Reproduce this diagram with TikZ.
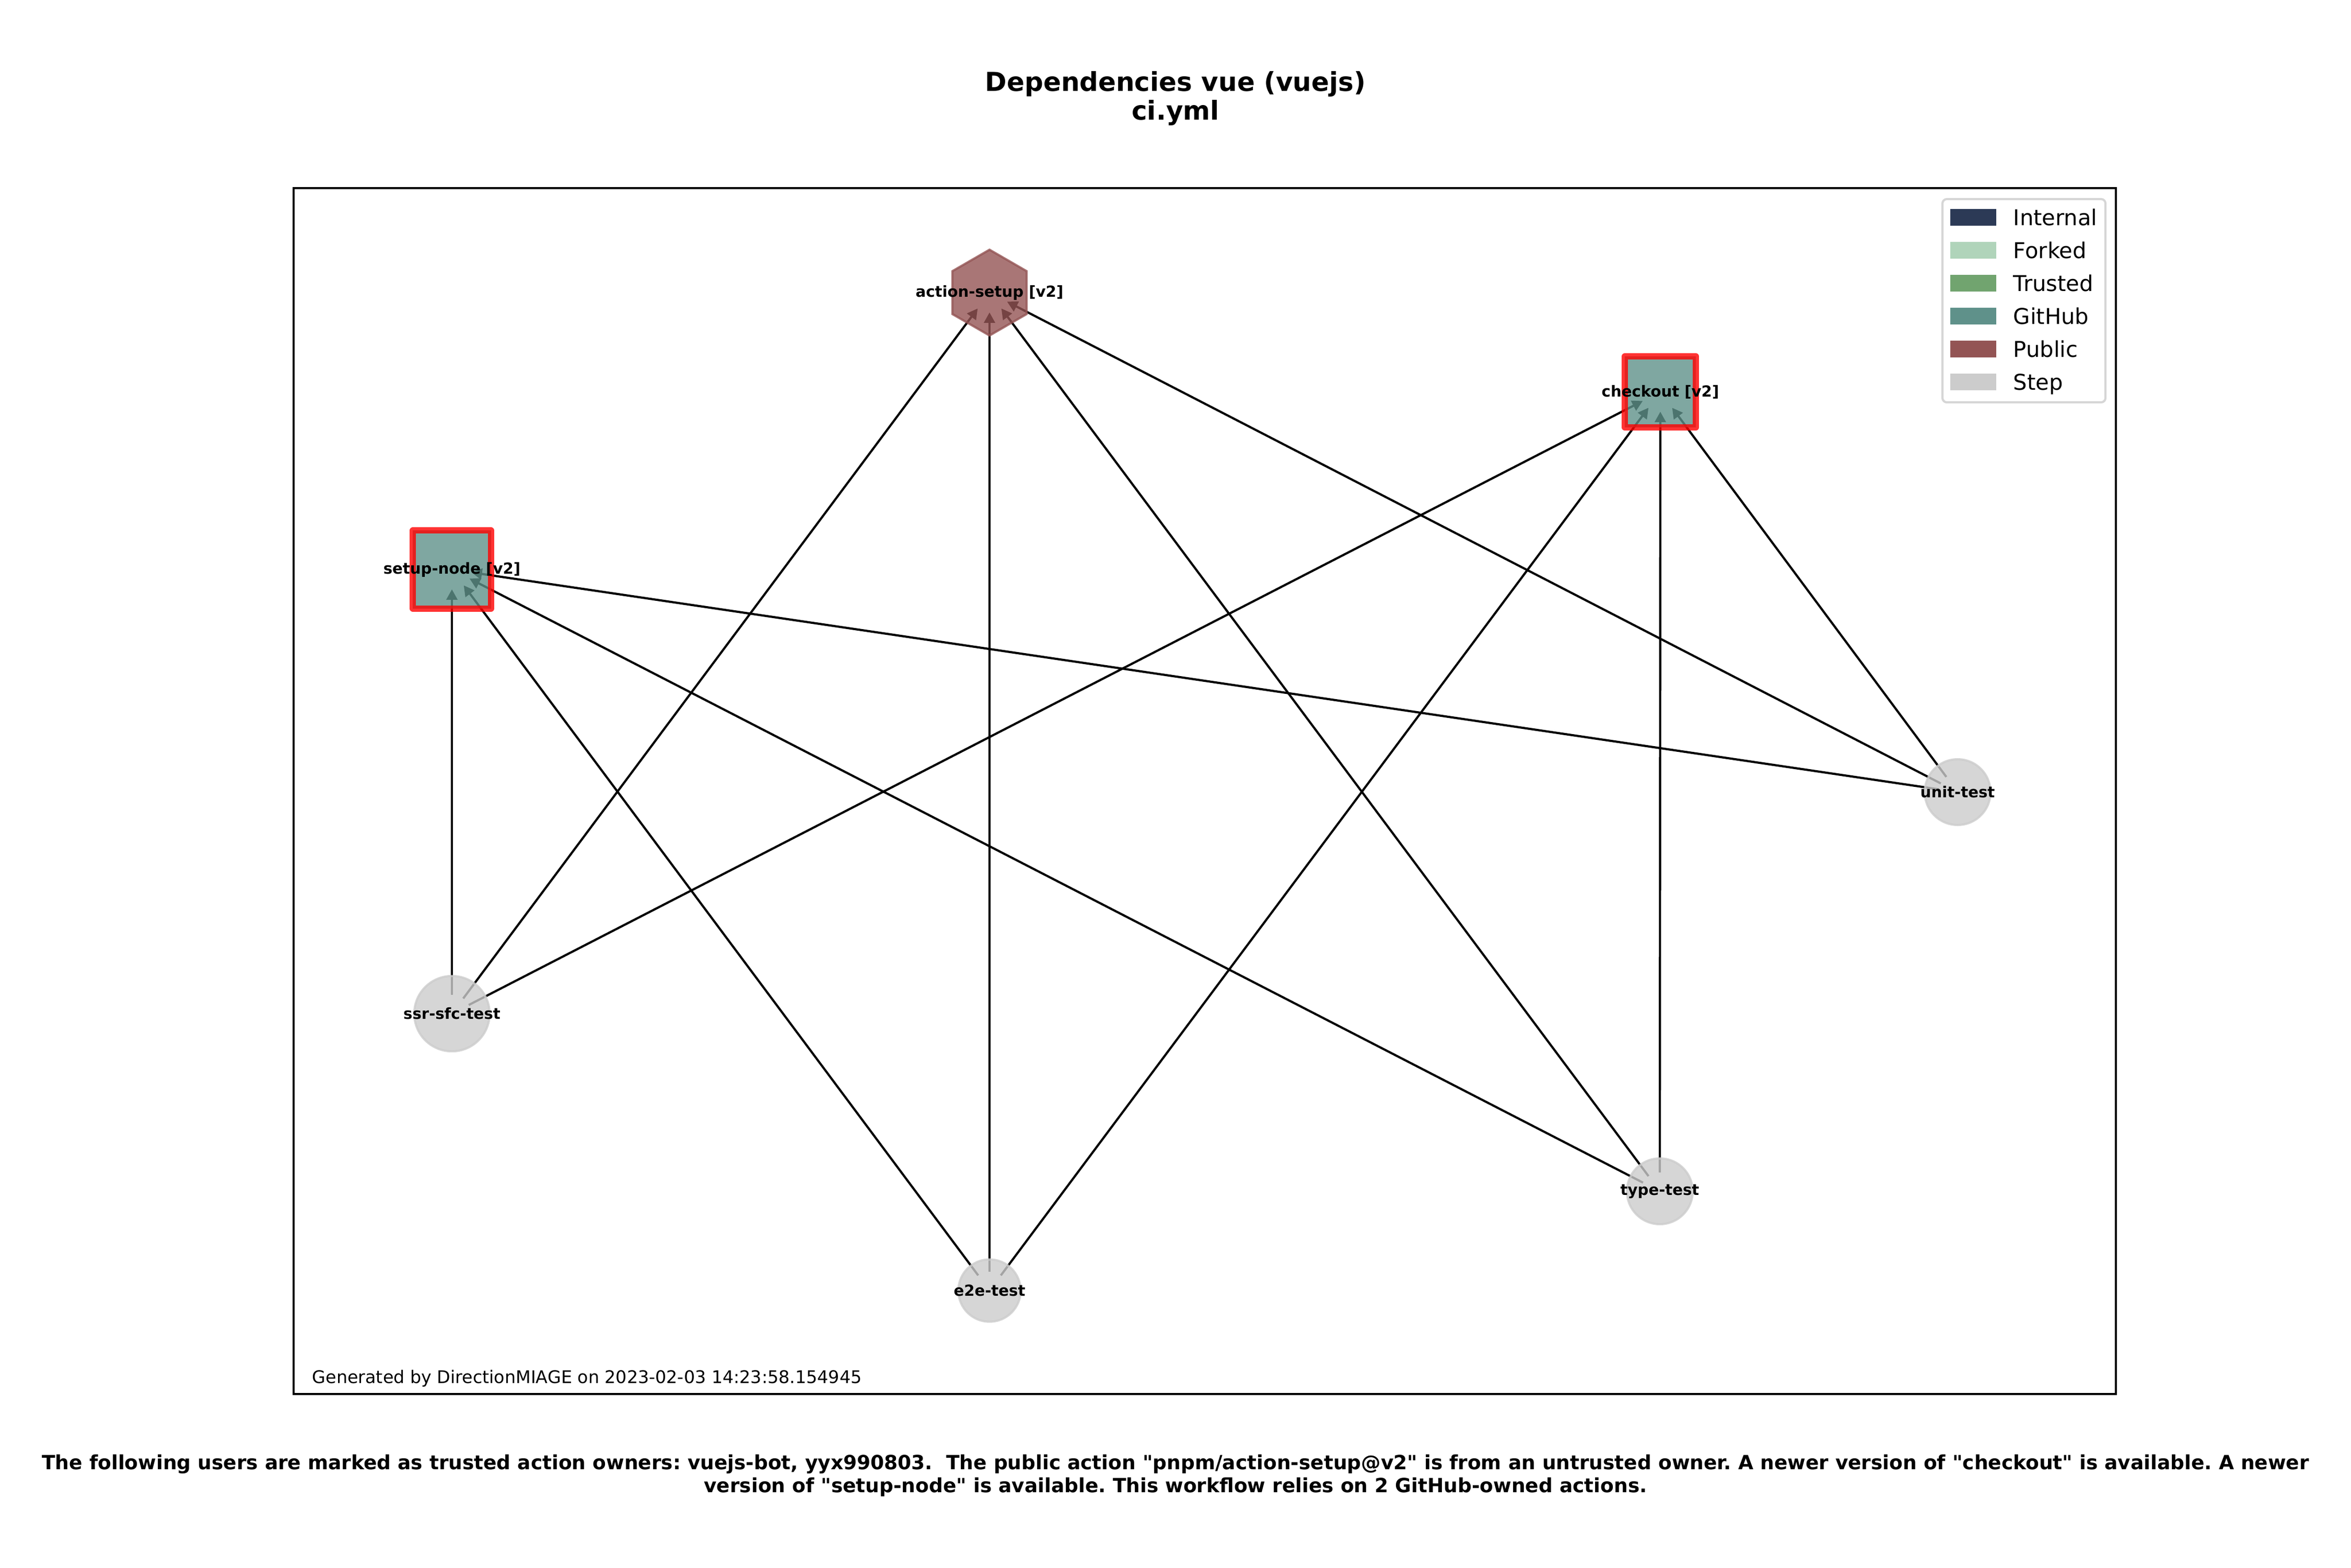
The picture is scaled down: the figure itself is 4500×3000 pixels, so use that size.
\documentclass[tikz,border=0pt]{standalone}
\usepackage{fontspec}
\setmainfont{DejaVu Sans}[Ligatures=TeXOff]
\usetikzlibrary{shapes.geometric, arrows.meta}
\frenchspacing

\definecolor{internalc}{RGB}{44,58,86}
\definecolor{forkedc}{RGB}{176,212,186}
\definecolor{trustedc}{RGB}{113,164,111}
\definecolor{githubc}{RGB}{95,145,138}
\definecolor{publicc}{RGB}{147,84,84}
\definecolor{stepc}{RGB}{204,204,204}
\definecolor{framec}{RGB}{214,214,214}

\pgfdeclarelayer{background}
\pgfsetlayers{background,main}

\begin{document}
\begin{tikzpicture}
    [
    x = 0.24pt, y = -0.24pt,
    every node/.style = {font=\fontsize{7}{8.4}\selectfont\bfseries, inner sep=0pt, text opacity=1},
    job/.style        = {circle, fill=stepc, draw=stepc, fill opacity=0.8, draw opacity=0.8, line width=1pt},
    action/.style     = {rectangle, fill=githubc, draw=red, fill opacity=0.8, draw opacity=0.8,
                         line width=2.9pt, line join=round},
    public/.style     = {regular polygon, regular polygon sides=6, shape border rotate=30,
                         fill=publicc, draw=publicc, fill opacity=0.8, draw opacity=0.8,
                         line width=1pt, minimum size=39.4pt},
    dep/.style        = {-{Triangle[length=4.8pt, width=5pt]}, line width=1pt,
                         shorten <=8.7pt, shorten >=9.1pt},
    swatch/.style     = {minimum width=21.1pt, minimum height=7.9pt},
    legend/.style     = {font=\fontsize{10}{12}\selectfont, anchor=base west}
    ]
    \useasboundingbox (0,0) rectangle (4500,3000);

    \node (title) at (2250,188) [align=center, font=\fontsize{12}{13.2}\selectfont\bfseries]
        {Dependencies vue (vuejs)\\ci.yml};

    \draw [line width=0.8pt] (562,360) rectangle (4050,2668);

    \node [public] (actsetup) at (1894,560) [label={center:action-setup [v2]}] {};
    \node [action, minimum size=32.6pt] (checkout) at (3178,750) [label={center:checkout [v2]}] {};
    \node [action, minimum size=35.8pt] (setupnode) at (865,1090) [label={center:setup-node [v2]}] {};

    \node [job, minimum size=34.6pt] (ssr) at (865,1940) [label={center:ssr-sfc-test}] {};
    \node [job, minimum size=28.6pt] (e2e) at (1894,2470) [label={center:e2e-test}] {};
    \node [job, minimum size=30.2pt] (type) at (3177,2280) [label={center:type-test}] {};
    \node [job, minimum size=30.2pt] (unit) at (3747,1516) [label={center:unit-test}] {};

    \begin{pgfonlayer}{background}
    \draw [dep] (ssr.center) -- (setupnode.center);
    \draw [dep] (ssr.center) -- (actsetup.center);
    \draw [dep] (ssr.center) -- (checkout.center);
    \draw [dep] (e2e.center) -- (setupnode.center);
    \draw [dep] (e2e.center) -- (actsetup.center);
    \draw [dep] (e2e.center) -- (checkout.center);
    \draw [dep] (type.center) -- (setupnode.center);
    \draw [dep] (type.center) -- (actsetup.center);
    \draw [dep] (type.center) -- (checkout.center);
    \draw [dep] (unit.center) -- (setupnode.center);
    \draw [dep] (unit.center) -- (actsetup.center);
    \draw [dep] (unit.center) -- (checkout.center);
    \end{pgfonlayer}

    \draw [framec, line width=1pt, rounded corners=2pt, fill=white] (3718,381) rectangle (4030,770);
    \node [swatch, fill=internalc] (swinternal) at (3777,416) {};
    \node [swatch, fill=forkedc]   (swforked)   at (3777,479) {};
    \node [swatch, fill=trustedc]  (swtrusted)  at (3777,542) {};
    \node [swatch, fill=githubc]   (swgithub)   at (3777,605) {};
    \node [swatch, fill=publicc]   (swpublic)   at (3777,668) {};
    \node [swatch, fill=stepc]     (swstep)     at (3777,731) {};
    \node [legend] (lbinternal) at (3853,431) {Internal};
    \node [legend] (lbforked)   at (3853,494) {Forked};
    \node [legend] (lbtrusted)  at (3853,557) {Trusted};
    \node [legend] (lbgithub)   at (3853,620) {GitHub};
    \node [legend] (lbpublic)   at (3853,683) {Public};
    \node [legend] (lbstep)     at (3853,746) {Step};

    \node [anchor=base west, font=\fontsize{8}{9.6}\selectfont] (generated) at (597,2647)
        {Generated by DirectionMIAGE on 2023-02-03 14:23:58.154945};

    \node (caption) at (2250,2824) [align=center, font=\fontsize{9}{10.4}\selectfont\bfseries]
        {The following users are marked as trusted action owners: vuejs-bot, yyx990803.~ The public action "pnpm/action-setup@v2" is from an untrusted owner. A newer version of "checkout" is available. A newer\\
         version of "setup-node" is available. This workflow relies on 2 GitHub-owned actions.};
\end{tikzpicture}
\end{document}
